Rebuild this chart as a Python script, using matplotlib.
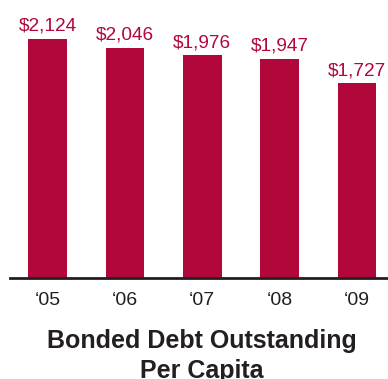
import matplotlib.pyplot as plt

# per capita bonded debt, fiscal years 2005-2009
years = ['\u201805', '\u201806', '\u201807', '\u201808', '\u201809']
debt = [2124, 2046, 1976, 1947, 1727]

red = '#B1073A'
dark = '#231F20'

plt.rcParams['font.family'] = ['Liberation Sans', 'DejaVu Sans']

fig = plt.figure(figsize=[3.88, 3.79], dpi=100)
ax = fig.add_axes([10 / 388, 1 - 277.7 / 379, 378 / 388, 277.7 / 379])

x = range(len(debt))
ax.bar(x, debt, width=0.5, color=red)
for i, v in enumerate(debt):
    ax.text(i, v + 72, '${:,}'.format(v), ha='center', va='baseline',
            color=red, fontsize=13.7)

ax.set_xlim(-0.4845, 4.399)
ax.set_ylim(0, 2469)
ax.set_xticks(list(x))
ax.set_xticklabels(years, fontsize=14, color=dark)
ax.tick_params(axis='x', length=0, pad=10)
ax.set_yticks([])
for s in ['top', 'right', 'left']:
    ax.spines[s].set_visible(False)
ax.spines['bottom'].set_linewidth(2)
ax.spines['bottom'].set_color(dark)

fig.text(202 / 388, 1 - 329 / 379, 'Bonded Debt Outstanding\nPer Capita',
         ha='center', va='top', fontsize=18, fontweight='bold',
         color=dark, linespacing=1.3)

fig.savefig('out.png', dpi=100)
